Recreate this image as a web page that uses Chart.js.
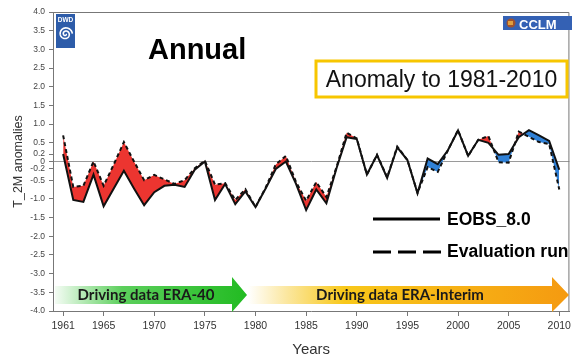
<!DOCTYPE html>
<html>
<head>
<meta charset="utf-8">
<script src="https://cdn.jsdelivr.net/npm/chart.js@4.4.1/dist/chart.umd.min.js"></script>
<style>
  html, body { margin: 0; padding: 0; background: #fff; }
  #wrap { width: 575px; height: 358px; }
</style>
</head>
<body>
<div id="wrap"><canvas id="chart" width="575" height="358"></canvas></div>
<script>
// --- data ---
const years = [1961, 1962, 1963, 1964, 1965, 1966, 1967, 1968, 1969, 1970,
               1971, 1972, 1973, 1974, 1975, 1976, 1977, 1978, 1979, 1980,
               1981, 1982, 1983, 1984, 1985, 1986, 1987, 1988, 1989, 1990,
               1991, 1992, 1993, 1994, 1995, 1996, 1997, 1998, 1999, 2000,
               2001, 2002, 2003, 2004, 2005, 2006, 2007, 2008, 2009, 2010];

const eobs = [0.20, -1.03, -1.08, -0.35, -1.20, -0.72, -0.25, -0.72, -1.17, -0.82,
              -0.65, -0.62, -0.68, -0.22, 0.00, -1.03, -0.60, -1.14, -0.80, -1.22,
              -0.72, -0.20, 0.00, -0.60, -1.30, -0.75, -1.12, -0.18, 0.65, 0.60,
              -0.35, 0.17, -0.44, 0.38, 0.04, -0.85, 0.08, -0.07, 0.30, 0.83,
              0.15, 0.58, 0.50, 0.18, 0.20, 0.65, 0.84, 0.70, 0.55, -0.22];

const evalRun = [0.70, -0.68, -0.65, 0.00, -0.65, -0.08, 0.52, 0.00, -0.50, -0.36,
                 -0.48, -0.60, -0.50, -0.18, 0.02, -0.62, -0.58, -1.03, -0.74, -1.22,
                 -0.70, -0.08, 0.15, -0.55, -1.05, -0.55, -0.95, -0.15, 0.77, 0.62,
                 -0.35, 0.18, -0.42, 0.40, 0.04, -0.84, -0.15, -0.28, 0.30, 0.84,
                 0.15, 0.58, 0.68, -0.02, -0.03, 0.80, 0.66, 0.52, 0.47, -0.75];

const xTicks = [1961, 1965, 1970, 1975, 1980, 1985, 1990, 1995, 2000, 2005, 2010];
const yTicks = [-4, -3.5, -3, -2.5, -2, -1.5, -1, -0.5, -0.2, 0, 0.2, 0.5, 1, 1.5, 2, 2.5, 3, 3.5, 4];
const yTickLabels = ['-4.0', '-3.5', '-3.0', '-2.5', '-2.0', '-1.5', '-1.0', '-0.5', '-0.2', '0',
                     '0.2', '0.5', '1.0', '1.5', '2.0', '2.5', '3.0', '3.5', '4.0'];

const FONT = "'Liberation Sans', Arial, sans-serif";
Chart.defaults.font.family = FONT;

// --- decorations: frame, logos, title, box, legend, arrows ---
function drawArrow(ctx, x0, headX, tipX, bodyTop, bodyBot, headTop, headBot, fill) {
  const tipY = (bodyTop + bodyBot) / 2;
  ctx.beginPath();
  ctx.moveTo(x0, bodyTop);
  ctx.lineTo(headX, bodyTop);
  ctx.lineTo(headX, headTop);
  ctx.lineTo(tipX, tipY);
  ctx.lineTo(headX, headBot);
  ctx.lineTo(headX, bodyBot);
  ctx.lineTo(x0, bodyBot);
  ctx.closePath();
  ctx.fillStyle = fill;
  ctx.fill();
}

const decorations = {
  id: 'decorations',
  afterDraw(chart) {
    const ctx = chart.ctx;
    const a = chart.chartArea;
    ctx.save();

    // top and right frame
    ctx.strokeStyle = '#777';
    ctx.lineWidth = 1;
    ctx.beginPath();
    ctx.moveTo(a.left, a.top + 0.5);
    ctx.lineTo(a.right - 0.5, a.top + 0.5);
    ctx.lineTo(a.right - 0.5, a.bottom);
    ctx.stroke();

    // DWD logo
    ctx.fillStyle = '#2d5ca9';
    ctx.fillRect(56, 14, 19, 34);
    ctx.fillStyle = '#fff';
    ctx.font = 'bold 6.5px ' + FONT;
    ctx.textAlign = 'center';
    ctx.textBaseline = 'middle';
    ctx.fillText('DWD', 65.5, 20);
    ctx.strokeStyle = '#fff';
    ctx.lineWidth = 1.6;
    ctx.beginPath();
    for (let t = 0; t <= 4 * Math.PI; t += 0.1) {
      const r = 0.6 + t * 0.5;
      const px = 65.5 + r * Math.cos(t);
      const py = 34 + r * Math.sin(t);
      if (t === 0) ctx.moveTo(px, py); else ctx.lineTo(px, py);
    }
    ctx.stroke();

    // CCLM logo
    ctx.fillStyle = '#3461b4';
    ctx.fillRect(503, 16, 69, 14);
    ctx.fillStyle = '#a0522d';
    ctx.beginPath();
    ctx.arc(511, 23, 4.5, 0, Math.PI * 2);
    ctx.fill();
    ctx.fillStyle = '#e0a040';
    ctx.fillRect(508, 21, 5, 4);
    ctx.fillStyle = '#fff';
    ctx.font = 'bold 13px ' + FONT;
    ctx.textAlign = 'left';
    ctx.textBaseline = 'alphabetic';
    ctx.fillText('CCLM', 519, 28.5);

    // "Annual"
    ctx.fillStyle = '#000';
    ctx.font = 'bold 29px ' + FONT;
    ctx.fillText('Annual', 148, 59);

    // anomaly box
    ctx.strokeStyle = '#f7c600';
    ctx.lineWidth = 3;
    ctx.strokeRect(316, 61, 251, 36);
    ctx.fillStyle = '#111';
    ctx.font = '23px ' + FONT;
    ctx.textAlign = 'center';
    ctx.fillText('Anomaly to 1981-2010', 441.5, 87);

    // legend
    ctx.strokeStyle = '#000';
    ctx.lineWidth = 3;
    ctx.beginPath();
    ctx.moveTo(373, 219);
    ctx.lineTo(440, 219);
    ctx.stroke();
    ctx.setLineDash([18, 7]);
    ctx.beginPath();
    ctx.moveTo(373, 252);
    ctx.lineTo(441, 252);
    ctx.stroke();
    ctx.setLineDash([]);
    ctx.fillStyle = '#000';
    ctx.font = 'bold 17.5px ' + FONT;
    ctx.textAlign = 'left';
    ctx.textBaseline = 'middle';
    ctx.fillText('EOBS_8.0', 447, 220);
    ctx.fillText('Evaluation run', 447, 252);

    // driving-data arrows
    const g1 = ctx.createLinearGradient(55, 0, 247, 0);
    g1.addColorStop(0, '#f4fcf4');
    g1.addColorStop(0.35, '#5ccf5c');
    g1.addColorStop(1, '#22bb22');
    drawArrow(ctx, 55, 232, 247, 286, 304, 277, 312, g1);

    const g2 = ctx.createLinearGradient(248, 0, 569, 0);
    g2.addColorStop(0, '#ffffff');
    g2.addColorStop(0.12, '#fbe7a0');
    g2.addColorStop(0.3, '#f8c81a');
    g2.addColorStop(1, '#f59a10');
    drawArrow(ctx, 248, 552, 569, 286, 304, 277, 312, g2);

    ctx.fillStyle = '#1a1a1a';
    ctx.font = "bold 15px Lato, 'Open Sans', sans-serif";
    ctx.textAlign = 'center';
    ctx.textBaseline = 'alphabetic';
    ctx.fillText('Driving data ERA-40', 146, 300);
    ctx.fillText('Driving data ERA-Interim', 400, 300);

    ctx.restore();
  }
};

new Chart(document.getElementById('chart'), {
  type: 'line',
  data: {
    datasets: [
      {
        label: 'EOBS_8.0',
        data: years.map((y, i) => ({ x: y, y: eobs[i] })),
        borderColor: '#111',
        borderWidth: 2,
        pointRadius: 0,
        tension: 0,
        fill: false
      },
      {
        label: 'Evaluation run',
        data: years.map((y, i) => ({ x: y, y: evalRun[i] })),
        borderColor: '#111',
        borderWidth: 2,
        borderDash: [4, 3],
        pointRadius: 0,
        tension: 0,
        fill: { target: 0, above: '#ec3530', below: '#2f80d6' }
      }
    ]
  },
  options: {
    responsive: false,
    animation: false,
    devicePixelRatio: 1,
    layout: { padding: { top: 12, right: 2, left: 0, bottom: 0 } },
    plugins: {
      legend: { display: false },
      tooltip: { enabled: false }
    },
    scales: {
      x: {
        type: 'linear',
        min: 1960,
        max: 2011,
        afterBuildTicks: s => { s.ticks = xTicks.map(v => ({ value: v })); },
        afterFit: s => { s.height = 47; },
        ticks: {
          callback: v => String(v),
          autoSkip: false,
          maxRotation: 0,
          padding: 4,
          color: '#333',
          font: { size: 10.5 }
        },
        grid: { drawOnChartArea: false, tickLength: 5, color: '#777' },
        border: { color: '#777' },
        title: {
          display: true,
          text: 'Years',
          color: '#333',
          font: { size: 15, lineHeight: 1.1 },
          padding: { top: 0, bottom: 0 }
        }
      },
      y: {
        type: 'linear',
        min: -4,
        max: 4,
        afterBuildTicks: s => { s.ticks = yTicks.map(v => ({ value: v })); },
        afterFit: s => { s.width = 53; },
        ticks: {
          callback: v => yTickLabels[yTicks.indexOf(v)],
          autoSkip: false,
          padding: 4,
          color: '#444',
          font: { size: 8.5 }
        },
        grid: {
          color: c => (c.tick && c.tick.value === 0 ? '#9a9a9a' : 'rgba(0,0,0,0)'),
          tickColor: '#777',
          tickLength: 4
        },
        border: { color: '#777' },
        title: {
          display: true,
          text: 'T_2M anomalies',
          color: '#333',
          font: { size: 12.5 },
          padding: { top: 11, bottom: 0 }
        }
      }
    }
  },
  plugins: [decorations]
});
</script>
</body>
</html>
